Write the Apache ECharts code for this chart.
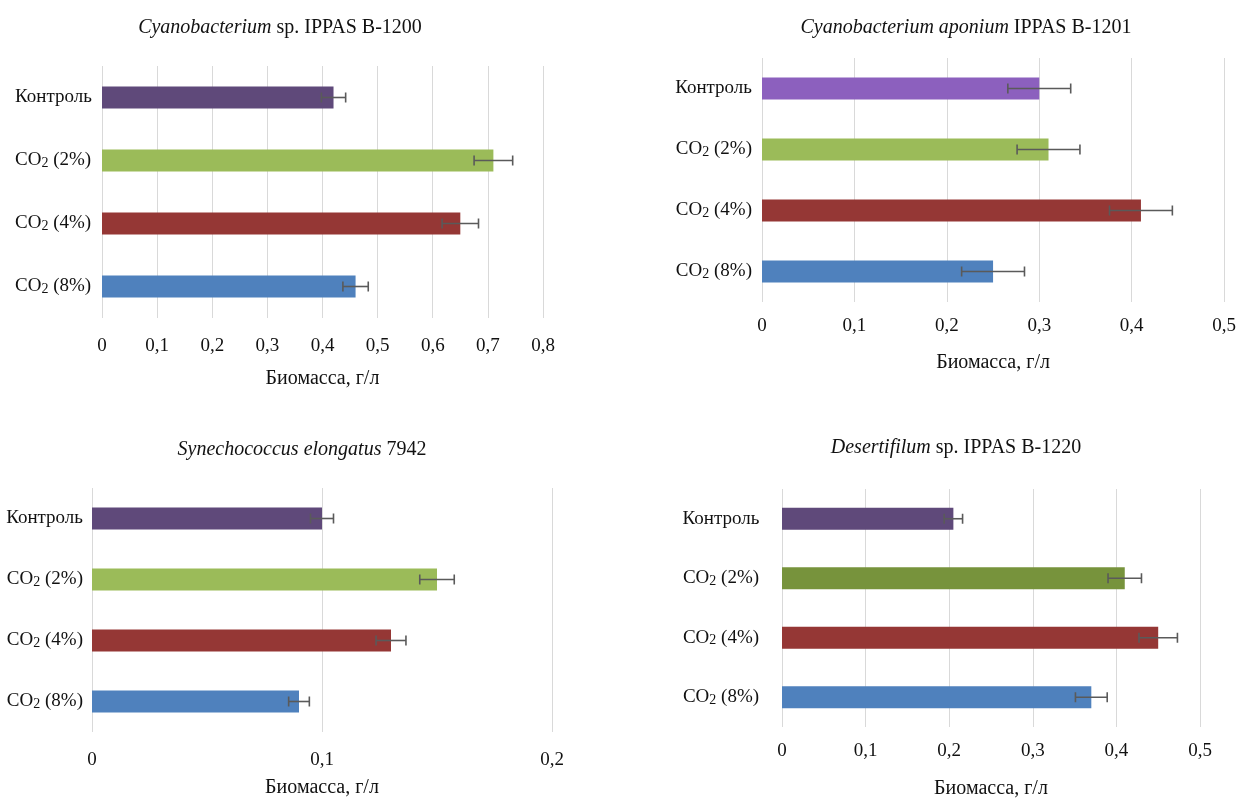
<!DOCTYPE html>
<html>
<head>
<meta charset="utf-8">
<script src="https://cdn.jsdelivr.net/npm/echarts@6/dist/echarts.min.js"></script>
<style>
  html, body { margin: 0; padding: 0; background: #ffffff; }
  #chart { width: 1239px; height: 800px; }
</style>
</head>
<body>
<div id="chart"></div>
<script>
// Treatments (top to bottom in every panel)
const categories = ['Контроль', 'CO2 (2%)', 'CO2 (4%)', 'CO2 (8%)'];

// Biomass, g/L, and error bar half-widths for each strain
const b1200Values = [0.42, 0.71, 0.65, 0.46];
const b1200Errors = [0.022, 0.035, 0.033, 0.023];

const b1201Values = [0.30, 0.31, 0.41, 0.25];
const b1201Errors = [0.034, 0.034, 0.034, 0.034];

const s7942Values = [0.10, 0.15, 0.13, 0.09];
const s7942Errors = [0.005, 0.0075, 0.0065, 0.0045];

const b1220Values = [0.205, 0.41, 0.45, 0.37];
const b1220Errors = [0.011, 0.02, 0.023, 0.019];

// Axis maxima for each panel
const axisMax = [0.8, 0.5, 0.2, 0.5];

const FONT = '"Liberation Serif", "Times New Roman", serif';
const TXT = '#111111';

const colorsA = ['#5F497A', '#9BBB59', '#953735', '#4F81BD'];
const colorsB = ['#8C60BE', '#9BBB59', '#953735', '#4F81BD'];
const colorsD = ['#5F497A', '#77933C', '#953735', '#4F81BD'];

const panels = [
  { values: b1200Values, errors: b1200Errors, colors: colorsA,
    grid: { left: 102, top: 66, width: 441, height: 252 },
    labelAlign: 'left', labelMargin: 87, tickMargin: 19, nameGap: 51,
    title: ['Cyanobacterium', ' sp. IPPAS B-1200'], titlePos: [280, 28] },
  { values: b1201Values, errors: b1201Errors, colors: colorsB,
    grid: { left: 762, top: 58, width: 464, height: 244 },
    labelAlign: 'right', labelMargin: 10, tickMargin: 15, nameGap: 51,
    title: ['Cyanobacterium aponium', ' IPPAS B-1201'], titlePos: [966, 28] },
  { values: s7942Values, errors: s7942Errors, colors: colorsA,
    grid: { left: 92, top: 488, width: 460, height: 244 },
    labelAlign: 'right', labelMargin: 9, tickMargin: 19, nameGap: 46,
    title: ['Synechococcus elongatus', ' 7942'], titlePos: [302, 450] },
  { values: b1220Values, errors: b1220Errors, colors: colorsD,
    grid: { left: 782, top: 489, width: 418, height: 238 },
    labelAlign: 'center', labelMargin: 61, tickMargin: 15, nameGap: 52,
    title: ['Desertifilum', ' sp. IPPAS B-1220'], titlePos: [956, 448] }
];

const catRich = {
  n: { fontFamily: FONT, fontSize: 19, color: TXT },
  s: { fontFamily: FONT, fontSize: 14, color: TXT, padding: [6, 0, 0, 0] }
};

function catFormatter(name) {
  if (name.indexOf('CO2') === 0) {
    return '{n|CO}{s|2}{n|' + name.slice(3) + '}';
  }
  return '{n|' + name + '}';
}

function errorBarRender(params, api) {
  const lo = api.coord([api.value(0), api.value(1)]);
  const hi = api.coord([api.value(2), api.value(1)]);
  const h = 5;
  const st = { stroke: '#5A5A5A', lineWidth: 1.6 };
  return {
    type: 'group',
    children: [
      { type: 'line', shape: { x1: lo[0], y1: lo[1], x2: hi[0], y2: hi[1] }, style: st },
      { type: 'line', shape: { x1: lo[0], y1: lo[1] - h, x2: lo[0], y2: lo[1] + h }, style: st },
      { type: 'line', shape: { x1: hi[0], y1: hi[1] - h, x2: hi[0], y2: hi[1] + h }, style: st }
    ]
  };
}

const grids = [], xAxes = [], yAxes = [], series = [], graphics = [];

panels.forEach((p, k) => {
  grids.push(Object.assign({ containLabel: false }, p.grid));
  xAxes.push({
    type: 'value', gridIndex: k, min: 0, max: axisMax[k], interval: 0.1,
    axisLine: { show: false }, axisTick: { show: false },
    splitLine: { show: true, lineStyle: { color: '#D9D9D9', width: 1 } },
    axisLabel: {
      fontFamily: FONT, fontSize: 19, color: TXT, margin: p.tickMargin,
      formatter: v => (Math.round(v * 10) / 10).toString().replace('.', ',')
    },
    name: 'Биомасса, г/л', nameLocation: 'middle', nameGap: p.nameGap,
    nameTextStyle: { fontFamily: FONT, fontSize: 20, color: TXT }
  });
  yAxes.push({
    type: 'category', gridIndex: k, data: categories, inverse: true,
    axisLine: { show: false }, axisTick: { show: false },
    splitLine: { show: false },
    axisLabel: {
      align: p.labelAlign, margin: p.labelMargin,
      formatter: catFormatter, rich: catRich
    }
  });
  series.push({
    type: 'bar', xAxisIndex: k, yAxisIndex: k, barWidth: 22,
    data: p.values.map((v, i) => ({ value: v, itemStyle: { color: p.colors[i] } })),
    silent: true
  });
  series.push({
    type: 'custom', xAxisIndex: k, yAxisIndex: k,
    renderItem: errorBarRender,
    encode: { x: [0, 2], y: 1 },
    data: p.values.map((v, i) => [v - p.errors[i], i, v + p.errors[i]]),
    z: 5, silent: true
  });
  graphics.push({
    type: 'text', x: p.titlePos[0], y: p.titlePos[1],
    style: {
      text: '{i|' + p.title[0] + '}{r|' + p.title[1] + '}',
      align: 'center', verticalAlign: 'middle',
      rich: {
        i: { fontFamily: FONT, fontSize: 20, fontStyle: 'italic', fill: TXT, color: TXT },
        r: { fontFamily: FONT, fontSize: 20, fill: TXT, color: TXT }
      }
    }
  });
});

const chart = echarts.init(document.getElementById('chart'), null, { renderer: 'canvas' });
chart.setOption({
  backgroundColor: '#ffffff',
  animation: false,
  grid: grids,
  xAxis: xAxes,
  yAxis: yAxes,
  series: series,
  graphic: graphics
});
</script>
</body>
</html>
